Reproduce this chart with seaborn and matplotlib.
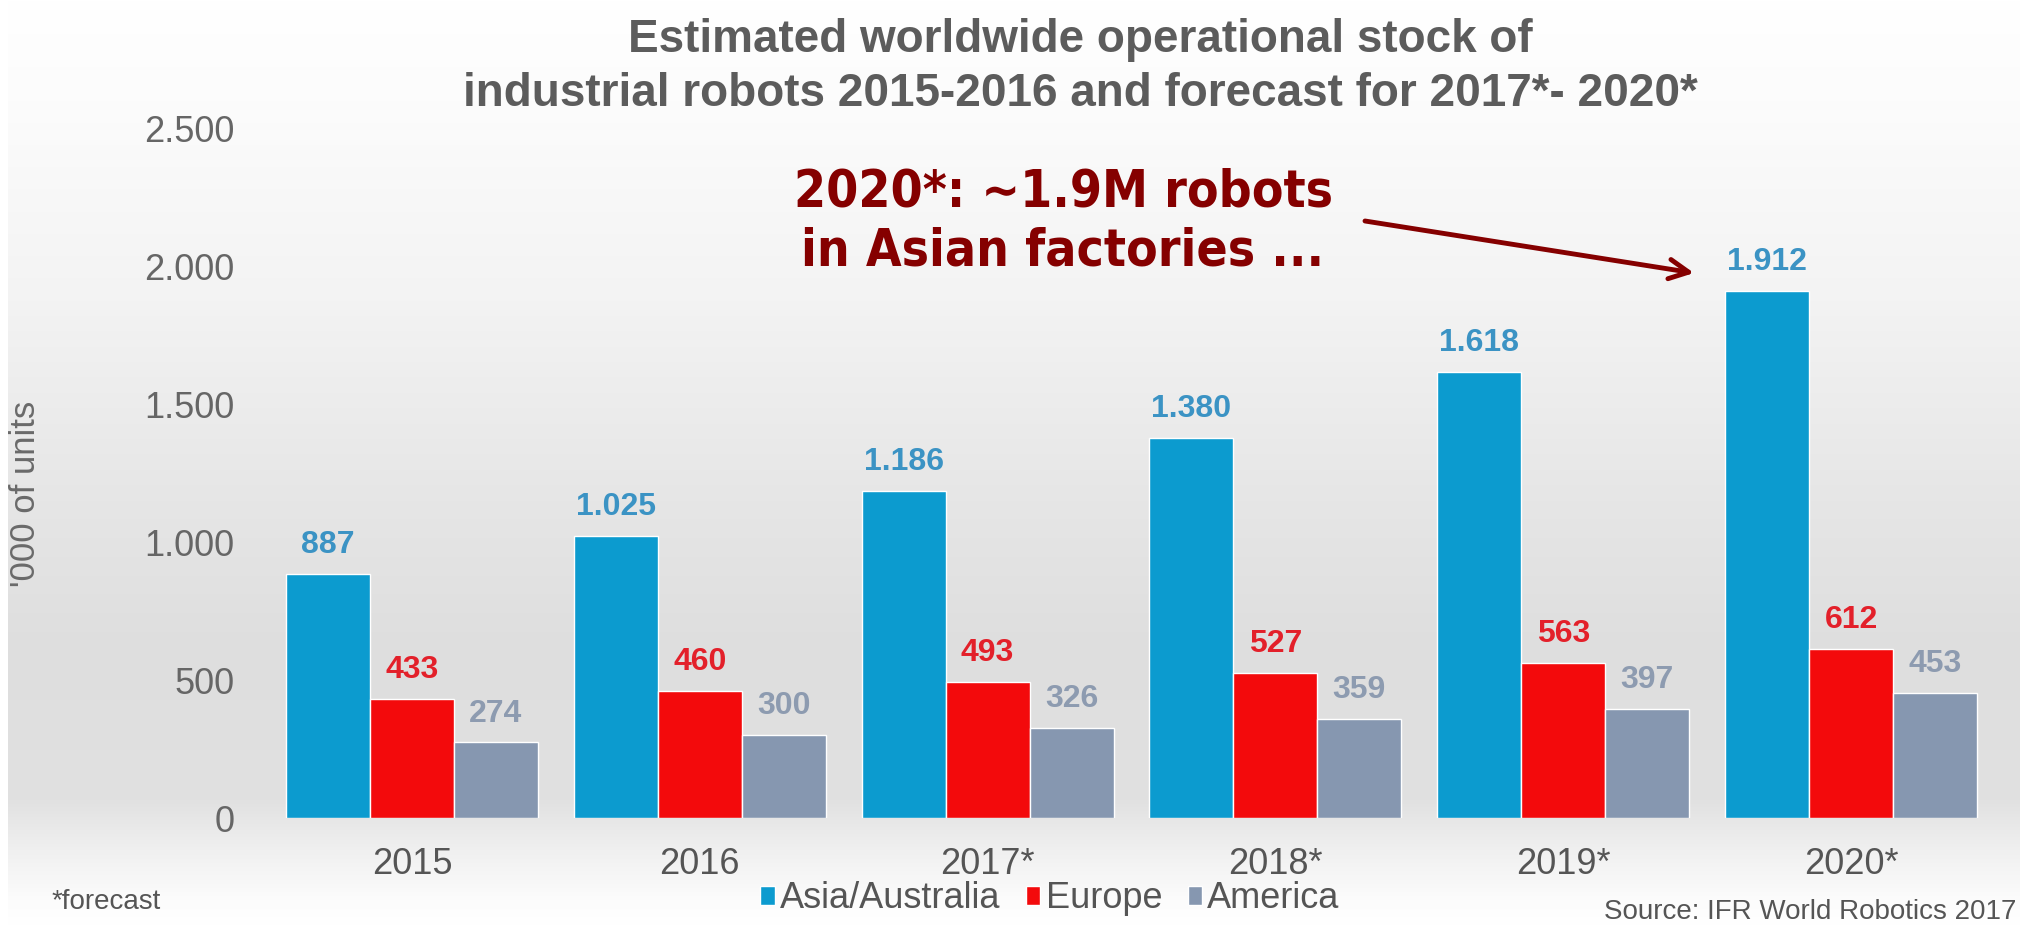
import numpy as np
import pandas as pd
import matplotlib
matplotlib.use("Agg")
import matplotlib.pyplot as plt
import seaborn as sns

# Operational stock of industrial robots, thousands of units
years = ["2015", "2016", "2017*", "2018*", "2019*", "2020*"]
regions = ["Asia/Australia", "Europe", "America"]
asia = [887, 1025, 1186, 1380, 1618, 1912]
europe = [433, 460, 493, 527, 563, 612]
america = [274, 300, 326, 359, 397, 453]
y_ticks = [0, 500, 1000, 1500, 2000, 2500]

bar_colors = ["#0c9bcf", "#f30a0c", "#8697b0"]
label_colors = ["#3b93c4", "#e3202a", "#8d9bb0"]

df = pd.DataFrame({
    "year": years * 3,
    "region": [regions[0]] * 6 + [regions[1]] * 6 + [regions[2]] * 6,
    "units": asia + europe + america,
})

sns.set_theme(style="white")
plt.rcParams["font.family"] = ["Liberation Sans", "DejaVu Sans"]

W, H = 2020, 925
fig = plt.figure(figsize=(W / 100, H / 100), dpi=100)

# soft vertical background shading
bg = fig.add_axes([0, 0, 1, 1], zorder=-10)
ys = np.array([0, 100, 300, 500, 650, 800, 850, 900, 925])
gs = np.array([255, 252, 243, 230, 222, 225, 240, 252, 255]) / 255.0
rows = np.interp(np.arange(H), ys, gs)
img = np.repeat(rows[:, None], W, axis=1)
img[:, :8] = 1.0
bg.imshow(np.dstack([img, img, img]), aspect="auto", extent=[0, W, H, 0])
bg.set_axis_off()

ax = fig.add_axes([268 / W, 1 - 818 / H, 1727 / W, (818 - 129) / H])
ax.patch.set_alpha(0)
sns.barplot(data=df, x="year", y="units", hue="region", palette=bar_colors,
            width=0.875, saturation=1, ax=ax, legend=True)

ax.set_ylim(0, 2500)
ax.set_xlim(-0.5, 5.5)
ax.set_yticks(y_ticks)
ax.set_yticklabels([f"{v:,}".replace(",", ".") for v in y_ticks])
ax.set_xlabel("")
ax.set_ylabel("'000 of units", color="#6a6a6a", fontsize=25, labelpad=0)
ax.yaxis.set_label_coords((42 - 268) / 1727, 0.47)
ax.tick_params(axis="y", length=0, pad=24, labelsize=26, labelcolor="#666666")
ax.tick_params(axis="x", length=0, pad=21, labelsize=26, labelcolor="#555555")
for s in ax.spines.values():
    s.set_visible(False)
ax.grid(False)

for cont, col in zip(ax.containers, label_colors):
    ax.bar_label(cont, labels=[f"{int(v):,}".replace(",", ".") for v in cont.datavalues],
                 padding=10, color=col, fontsize=23, fontweight="bold")

handles, labels = ax.get_legend_handles_labels()
ax.legend(handles, labels, loc="center", bbox_to_anchor=(1050 / W, 1 - 899 / H),
          bbox_transform=fig.transFigure, ncol=3, frameon=False, fontsize=26,
          handlelength=0.4, handleheight=0.4, handletextpad=0.15,
          columnspacing=0.7, labelcolor="#555555", borderaxespad=0)

fig.text(1080 / W, 1 - 40 / H, "Estimated worldwide operational stock of",
         ha="center", va="center", fontsize=33, fontweight="bold", color="#5c5c5c")
fig.text(1080 / W, 1 - 94 / H, "industrial robots 2015-2016 and forecast for 2017*- 2020*",
         ha="center", va="center", fontsize=33, fontweight="bold", color="#5c5c5c")

fig.text(52 / W, 1 - 902 / H, "*forecast", ha="left", va="center",
         fontsize=20, color="#555555")
fig.text(2016 / W, 1 - 912 / H, "Source: IFR World Robotics 2017", ha="right",
         va="center", fontsize=20, color="#555555")

fig.text(1063 / W, 1 - 222 / H, "2020*: \u223c1.9M robots\nin Asian factories ...",
         ha="center", va="center", fontsize=37, fontweight="bold",
         fontfamily="DejaVu Sans", fontstretch="condensed", color="#850000",
         linespacing=1.22)
ax.annotate("", xy=(1694 / W, 1 - 273 / H), xytext=(1365 / W, 1 - 221 / H),
            xycoords="figure fraction", textcoords="figure fraction",
            arrowprops=dict(arrowstyle="->", color="#850000", lw=3.5,
                            mutation_scale=35, shrinkA=0, shrinkB=0))

fig.savefig("out.png", dpi=100)
